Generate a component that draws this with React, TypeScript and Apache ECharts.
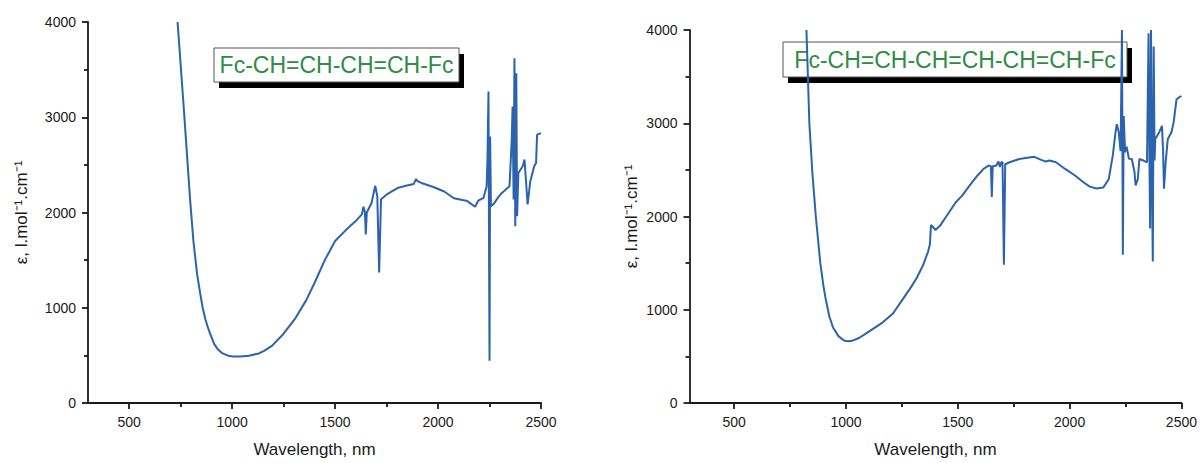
import React, { useEffect, useRef } from "react";
import * as echarts from "echarts";

// Axis ticks / labels
const xTickValues = [500, 1000, 1500, 2000, 2500];
const xMinorTickValues = [750, 1250, 1750, 2250];
const xMin = 300;
const xMax = 2500;
const yMin = 0;
const yMax = 4000;
const yInterval = 1000;

const xAxisTitle = "Wavelength, nm";
const yAxisTitle = "ε, l.mol⁻¹.cm⁻¹";
const leftLabel = "Fc-CH=CH-CH=CH-Fc";
const rightLabel = "Fc-CH=CH-CH=CH-CH=CH-Fc";

// Left spectrum (nm, epsilon)
const leftWavelengths = [
  735, 765, 796, 812, 830, 845, 857, 870, 885, 900, 913, 930, 951, 980, 1006, 1040, 1081,
  1130, 1155, 1193, 1248, 1304, 1360, 1400, 1450, 1500, 1550, 1600, 1630, 1638, 1645,
  1649, 1654, 1677, 1695, 1705, 1714, 1723, 1751, 1807, 1844, 1882, 1893, 1900, 1919,
  1974, 2030, 2077, 2142, 2180, 2195, 2221, 2236, 2240, 2245, 2248, 2250, 2253, 2257,
  2272, 2290, 2310, 2347, 2358, 2362, 2367, 2371, 2375, 2380, 2384, 2390, 2411, 2420,
  2435, 2448, 2467, 2476, 2481, 2500,
];
const leftEpsilon = [
  4000, 3100, 2130, 1700, 1350, 1150, 1000, 880, 775, 690, 618, 565, 524, 497, 489, 488,
  496, 520, 548, 600, 722, 880, 1080, 1260, 1500, 1700, 1810, 1910, 1980, 2060, 2000,
  1770, 2000, 2100, 2280, 2170, 1370, 2140, 2190, 2260, 2280, 2300, 2350, 2330, 2310,
  2270, 2220, 2150, 2120, 2060, 2125, 2154, 2276, 2555, 3270, 1438, 443, 2799, 2066,
  2094, 2154, 2206, 2276, 2764, 3113, 2136, 3620, 1857, 3462, 1962, 2415, 2485, 2555,
  2084, 2328, 2485, 2520, 2817, 2834,
];

// Right spectrum (nm, epsilon)
const rightWavelengths = [
  823, 836, 850, 865, 885, 900, 908, 925, 942, 955, 965, 980, 993, 1010, 1027, 1060, 1095,
  1163, 1210, 1248, 1290, 1316, 1345, 1367, 1375, 1380, 1388, 1400, 1420, 1452, 1490,
  1520, 1555, 1588, 1615, 1638, 1648, 1652, 1656, 1672, 1682, 1688, 1694, 1700, 1706,
  1712, 1732, 1775, 1810, 1842, 1870, 1893, 1910, 1939, 1980, 2024, 2060, 2090, 2120,
  2150, 2175, 2193, 2205, 2211, 2220, 2228, 2234, 2238, 2242, 2248, 2255, 2265, 2278,
  2290, 2295, 2305, 2312, 2330, 2346, 2349, 2353, 2357, 2360, 2364, 2368, 2372, 2376,
  2380, 2383, 2400, 2413, 2418, 2422, 2430, 2439, 2455, 2465, 2478, 2490, 2500,
];
const rightEpsilon = [
  4000, 3000, 2450, 2000, 1500, 1240, 1130, 930, 810, 760, 720, 690, 667, 662, 667, 700,
  755, 862, 960, 1092, 1240, 1340, 1480, 1624, 1700, 1908, 1890, 1855, 1900, 2014, 2150,
  2227, 2340, 2440, 2510, 2546, 2540, 2209, 2540, 2546, 2590, 2530, 2582, 2582, 1482,
  2560, 2582, 2617, 2630, 2640, 2610, 2589, 2600, 2582, 2510, 2440, 2370, 2320, 2300,
  2310, 2400, 2652, 2900, 2989, 2900, 2700, 4000, 1589, 3078, 2688, 2750, 2620, 2617,
  2480, 2333, 2400, 2617, 2600, 2582, 3184, 3964, 2600, 1872, 4000, 2500, 1518, 3823,
  2600, 2830, 2900, 2972, 2700, 2298, 2600, 2830, 2900, 3007, 3255, 3280, 3291,
];

const FONT = "'Liberation Sans', Arial, Helvetica, sans-serif";
const AXIS_COLOR = "#1a1a1a";
const LINE_COLOR = "#2b63ad";
const LABEL_GREEN = "#2f8c45";

function zip(xs: number[], ys: number[]) {
  return xs.map((x, i) => [x, ys[i]]);
}

const plain = (v: number) => String(v);

function mainXAxis(gridIndex: number, nameGap: number) {
  return {
    type: "value",
    gridIndex,
    position: "bottom",
    min: xMin,
    max: xMax,
    axisLine: { show: true, lineStyle: { color: AXIS_COLOR, width: 1.8 } },
    axisTick: { show: true, customValues: xTickValues, length: 6, lineStyle: { color: AXIS_COLOR, width: 1.8 } },
    axisLabel: { customValues: xTickValues, formatter: plain, margin: 12, fontSize: 14, color: AXIS_COLOR, fontFamily: FONT },
    splitLine: { show: false },
    name: xAxisTitle,
    nameLocation: "middle",
    nameGap,
    nameTextStyle: { fontSize: 17, color: AXIS_COLOR, fontFamily: FONT },
  };
}

function minorXAxis(gridIndex: number) {
  return {
    type: "value",
    gridIndex,
    position: "bottom",
    min: xMin,
    max: xMax,
    axisLine: { show: false },
    axisTick: { show: true, customValues: xMinorTickValues, length: 4, lineStyle: { color: AXIS_COLOR, width: 1.8 } },
    axisLabel: { show: false },
    splitLine: { show: false },
  };
}

function yAxisDef(gridIndex: number, nameGap: number) {
  return {
    type: "value",
    gridIndex,
    min: yMin,
    max: yMax,
    interval: yInterval,
    axisLine: { show: true, lineStyle: { color: AXIS_COLOR, width: 1.8 } },
    axisTick: { show: true, length: 6, lineStyle: { color: AXIS_COLOR, width: 1.8 } },
    minorTick: { show: true, splitNumber: 2, length: 4, lineStyle: { color: AXIS_COLOR, width: 1.8 } },
    axisLabel: { formatter: plain, margin: 12, fontSize: 14, color: AXIS_COLOR, fontFamily: FONT },
    splitLine: { show: false },
    minorSplitLine: { show: false },
    name: yAxisTitle,
    nameLocation: "middle",
    nameRotate: 90,
    nameGap,
    nameTextStyle: { fontSize: 17, color: AXIS_COLOR, fontFamily: FONT },
  };
}

function labelBox(x: number, y: number, w: number, h: number, text: string) {
  return {
    type: "group",
    children: [
      { type: "rect", shape: { x: x + 5, y: y + 6, width: w, height: h }, style: { fill: "#000" } },
      { type: "rect", shape: { x, y, width: w, height: h }, style: { fill: "#fff", stroke: "#555", lineWidth: 1 } },
      {
        type: "text",
        x: x + w / 2,
        y: y + h / 2,
        style: {
          text,
          fill: LABEL_GREEN,
          fontSize: 23,
          fontFamily: FONT,
          align: "center",
          verticalAlign: "middle",
        },
      },
    ],
  };
}

export default function App() {
  const ref = useRef<HTMLDivElement>(null);
  useEffect(() => {
    document.body.style.margin = "0";
    if (!ref.current) return;
    const chart = echarts.init(ref.current, undefined, { renderer: "svg" });
    chart.setOption({
      animation: false,
      backgroundColor: "#ffffff",
      textStyle: { fontFamily: FONT },
      grid: [
        { left: 88, top: 22, width: 453, height: 381 },
        { left: 689.5, top: 30, width: 498, height: 376 },
      ],
      xAxis: [mainXAxis(0, 38), minorXAxis(0), mainXAxis(1, 38), minorXAxis(1)],
      yAxis: [yAxisDef(0, 58), yAxisDef(1, 50)],
      series: [
        {
          type: "line",
          xAxisIndex: 0,
          yAxisIndex: 0,
          data: zip(leftWavelengths, leftEpsilon),
          showSymbol: false,
          lineStyle: { color: LINE_COLOR, width: 2 },
          itemStyle: { color: LINE_COLOR },
        },
        {
          type: "line",
          xAxisIndex: 2,
          yAxisIndex: 1,
          data: zip(rightWavelengths, rightEpsilon),
          showSymbol: false,
          lineStyle: { color: LINE_COLOR, width: 2 },
          itemStyle: { color: LINE_COLOR },
        },
      ],
      graphic: [
        labelBox(214, 48, 245, 34, leftLabel),
        labelBox(783, 42, 344, 35, rightLabel),
      ],
    });
    return () => chart.dispose();
  }, []);
  return <div ref={ref} style={{ width: 1200, height: 463 }} />;
}
